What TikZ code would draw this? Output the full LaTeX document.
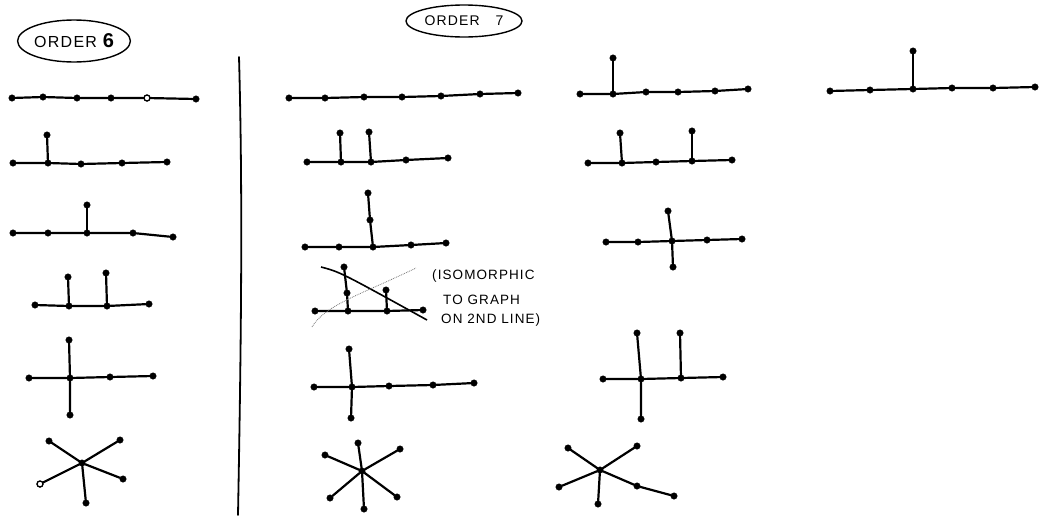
\documentclass[tikz,border=0pt]{standalone}
\usepackage{fontspec}
\newfontfamily\handfont[LetterSpace=8]{Liberation Sans}
\usetikzlibrary{shapes.geometric,positioning}
\tikzset{
  vtx/.style={circle, fill=black, draw=black, inner sep=0pt, minimum size=6.5pt},
  hollow/.style={vtx, fill=white, line width=1.3pt, minimum size=6pt},
  edge/.style={draw=black, line width=2.2pt, line cap=round},
  strike/.style={draw=black, line width=1.6pt},
  faint/.style={draw=black!55, line width=.8pt, densely dotted},
  tag/.style={ellipse, draw=black, line width=1.4pt, inner sep=0pt, font=\handfont},
  note/.style={anchor=west, inner sep=0pt, font=\handfont\fontsize{13.5}{13.5}\selectfont}
}
\begin{document}
\begin{tikzpicture}[x=1pt,y=-1pt]
  \useasboundingbox (0,0) rectangle (1040,517);

  % headings
  \node[tag, minimum width=88pt, minimum height=42pt] (ord6) at (74,41)
    {\fontsize{16}{16}\selectfont ORDER {\fontsize{20}{20}\selectfont\bfseries 6}};
  \node[tag, minimum width=116pt, minimum height=32pt] (ord7) at (464,21)
    {\fontsize{14}{14}\selectfont ORDER\hspace{16pt}7};

  % divider
  \coordinate (divtop) at (239,57);
  \coordinate (divbot) at (238,515);
  \draw[edge, line width=1.8pt] (divtop) .. controls (243,200) and (241,350) .. (divbot);

  % ---- order 6 ----
  \foreach \x/\y [count=\i] in {12/98,43/97,77/98,111/98,147/98,196/99}
    \node[vtx] (a\i) at (\x,\y) {};
  \node[hollow] at (a5) {};
  \draw[edge] (a1) -- (a2) -- (a3) -- (a4) -- (a5) -- (a6);

  \foreach \x/\y [count=\i] in {13/163,48/163,81/164,122/163,167/162,47/135}
    \node[vtx] (b\i) at (\x,\y) {};
  \draw[edge] (b1) -- (b2) -- (b3) -- (b4) -- (b5);
  \draw[edge] (b2) -- (b6);

  \foreach \x/\y [count=\i] in {13/233,48/233,87/233,133/233,173/237,87/205}
    \node[vtx] (c\i) at (\x,\y) {};
  \draw[edge] (c1) -- (c2) -- (c3) -- (c4) -- (c5);
  \draw[edge] (c3) -- (c6);

  \foreach \x/\y [count=\i] in {35/305,69/306,107/306,149/304,68/277,106/273}
    \node[vtx] (d\i) at (\x,\y) {};
  \draw[edge] (d1) -- (d2) -- (d3) -- (d4);
  \draw[edge] (d2) -- (d5);
  \draw[edge] (d3) -- (d6);

  \foreach \x/\y [count=\i] in {29/378,70/378,110/377,153/376,69/340,70/415}
    \node[vtx] (e\i) at (\x,\y) {};
  \draw[edge] (e1) -- (e2) -- (e3) -- (e4);
  \draw[edge] (e5) -- (e2) -- (e6);

  \node[vtx] (f0) at (82,463) {};
  \foreach \x/\y [count=\i] in {49/441,120/440,123/479,40/484,86/503} {
    \node[vtx] (f\i) at (\x,\y) {};
    \draw[edge] (f0) -- (f\i);
  }
  \node[hollow] at (f4) {};

  % ---- order 7, first column ----
  \foreach \x/\y [count=\i] in {289/98,325/98,364/97,402/97,441/96,480/94,518/93}
    \node[vtx] (g\i) at (\x,\y) {};
  \draw[edge] (g1) -- (g2) -- (g3) -- (g4) -- (g5) -- (g6) -- (g7);

  \foreach \x/\y [count=\i] in {307/162,341/162,371/162,406/160,448/158,340/133,369/132}
    \node[vtx] (h\i) at (\x,\y) {};
  \draw[edge] (h1) -- (h2) -- (h3) -- (h4) -- (h5);
  \draw[edge] (h2) -- (h6);
  \draw[edge] (h3) -- (h7);

  \foreach \x/\y [count=\i] in {305/247,339/247,373/247,411/245,446/243,370/220,368/193}
    \node[vtx] (i\i) at (\x,\y) {};
  \draw[edge] (i1) -- (i2) -- (i3) -- (i4) -- (i5);
  \draw[edge] (i3) -- (i6) -- (i7);

  % crossed-out tree
  \foreach \x/\y [count=\i] in {315/311,348/311,387/311,423/310,347/293,344/267,386/290}
    \node[vtx] (j\i) at (\x,\y) {};
  \draw[edge] (j1) -- (j2) -- (j3) -- (j4);
  \draw[edge] (j2) -- (j5) -- (j6);
  \draw[edge] (j3) -- (j7);
  \coordinate (xa) at (321,267);
  \coordinate (xb) at (427,320);
  \coordinate (xc) at (312,327);
  \coordinate (xd) at (416,268);
  \draw[strike] (xa) .. controls (340,272) .. (xb);
  \draw[faint] (xc) .. controls (325,305) and (360,295) .. (xd);
  \node[note] (note1) at (432,276) {(ISOMORPHIC};
  \node[note] (note2) at (443,300) {TO GRAPH};
  \node[note] (note3) at (441,320) {ON 2ND LINE)};

  \foreach \x/\y [count=\i] in {314/387,352/387,389/386,433/385,474/383,349/349,351/418}
    \node[vtx] (k\i) at (\x,\y) {};
  \draw[edge] (k1) -- (k2) -- (k3) -- (k4) -- (k5);
  \draw[edge] (k6) -- (k2) -- (k7);

  \node[vtx] (l0) at (362,471) {};
  \foreach \x/\y [count=\i] in {358/443,325/455,400/449,330/498,364/509,397/497} {
    \node[vtx] (l\i) at (\x,\y) {};
    \draw[edge] (l0) -- (l\i);
  }

  % ---- order 7, second column ----
  \foreach \x/\y [count=\i] in {580/94,613/94,646/92,678/92,715/91,748/89,613/58}
    \node[vtx] (m\i) at (\x,\y) {};
  \draw[edge] (m1) -- (m2) -- (m3) -- (m4) -- (m5) -- (m6);
  \draw[edge] (m2) -- (m7);

  \foreach \x/\y [count=\i] in {588/163,622/163,656/162,692/161,732/160,620/133,692/131}
    \node[vtx] (n\i) at (\x,\y) {};
  \draw[edge] (n1) -- (n2) -- (n3) -- (n4) -- (n5);
  \draw[edge] (n2) -- (n6);
  \draw[edge] (n4) -- (n7);

  \foreach \x/\y [count=\i] in {606/242,638/242,672/241,707/240,742/239,668/211,673/267}
    \node[vtx] (o\i) at (\x,\y) {};
  \draw[edge] (o1) -- (o2) -- (o3) -- (o4) -- (o5);
  \draw[edge] (o6) -- (o3) -- (o7);

  \foreach \x/\y [count=\i] in {603/379,641/379,681/378,723/377,637/333,641/419,680/333}
    \node[vtx] (p\i) at (\x,\y) {};
  \draw[edge] (p1) -- (p2) -- (p3) -- (p4);
  \draw[edge] (p5) -- (p2) -- (p6);
  \draw[edge] (p3) -- (p7);

  \node[vtx] (q0) at (600,470) {};
  \foreach \x/\y [count=\i] in {568/448,637/446,559/487,598/504} {
    \node[vtx] (q\i) at (\x,\y) {};
    \draw[edge] (q0) -- (q\i);
  }
  \node[vtx] (q5) at (637,486) {};
  \node[vtx] (q6) at (674,496) {};
  \draw[edge] (q0) -- (q5) -- (q6);

  % ---- order 7, third column ----
  \foreach \x/\y [count=\i] in {830/91,870/90,913/89,952/88,993/88,1035/87,913/51}
    \node[vtx] (r\i) at (\x,\y) {};
  \draw[edge] (r1) -- (r2) -- (r3) -- (r4) -- (r5) -- (r6);
  \draw[edge] (r3) -- (r7);
\end{tikzpicture}
\end{document}
